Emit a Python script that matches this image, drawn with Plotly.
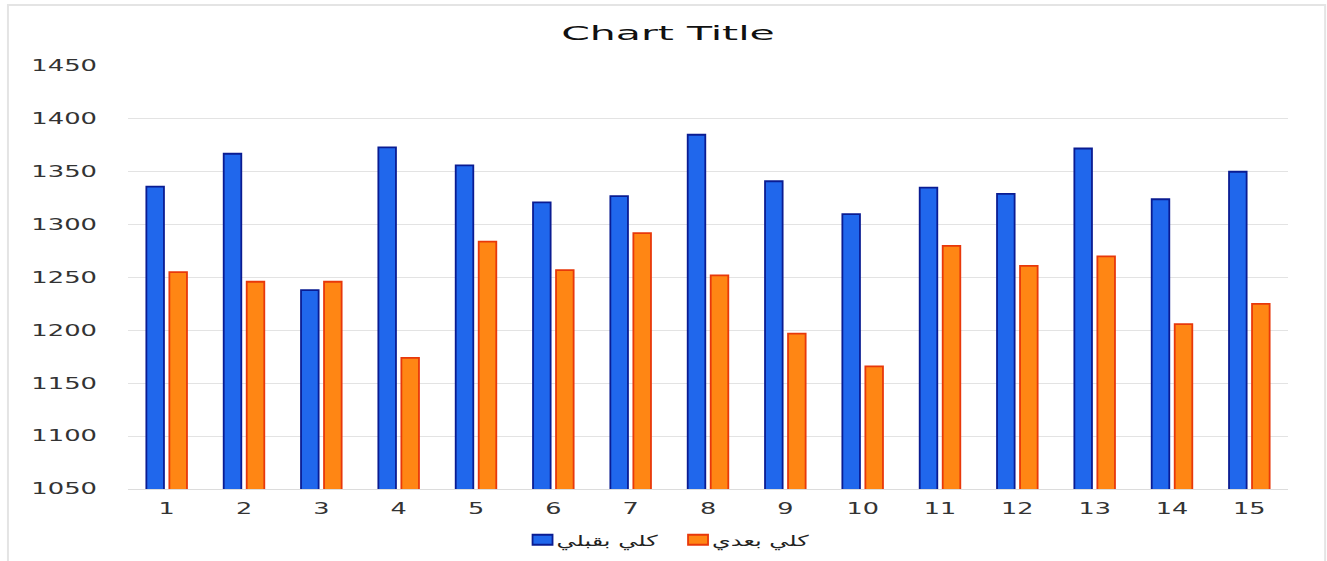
import plotly.graph_objects as go

categories = [str(i) for i in range(1, 16)]
before_vals = [1336, 1367, 1238, 1373, 1356, 1321, 1327, 1385, 1341, 1310, 1335, 1329, 1372, 1324, 1350]
after_vals = [1255, 1246, 1246, 1174, 1284, 1257, 1292, 1252, 1197, 1166, 1280, 1261, 1270, 1206, 1225]
series_names = ["كلي بقبلي", "كلي بعدي"]
y_ticks = [1050, 1100, 1150, 1200, 1250, 1300, 1350, 1400, 1450]

fig = go.Figure()
fig.add_trace(go.Bar(
    x=categories, y=before_vals, name=series_names[0],
    marker=dict(color="#2067ec", line=dict(color="#0a1c92", width=1.8)),
))
fig.add_trace(go.Bar(
    x=categories, y=after_vals, name=series_names[1],
    marker=dict(color="#ff8614", line=dict(color="#e8380a", width=1.8)),
))

fig.update_layout(
    width=1327, height=561,
    margin=dict(l=128, r=39, t=66, b=72, autoexpand=False),
    paper_bgcolor="white", plot_bgcolor="white",
    barmode="group", bargap=0.405, bargroupgap=0.235,
    title=dict(text="Chart Title", x=0.5034, xanchor="center", y=0.9412, yanchor="middle",
               font=dict(family="DejaVu Sans", size=20, color="#111")),
    font=dict(family="DejaVu Sans", size=15, color="#333"),
    showlegend=True,
    legend=dict(orientation="h", x=0.469, xanchor="center",
                yref="container", y=0.0374, yanchor="middle",
                font=dict(family="DejaVu Sans", size=15, color="#222"),
                traceorder="normal", itemwidth=30, entrywidth=110.5),
    xaxis=dict(showgrid=False, showline=True, linecolor="#dcdcdc", linewidth=1,
               ticks="", tickfont=dict(size=15, color="#333"), ticklabelstandoff=6),
    yaxis=dict(range=[1050, 1450], tickvals=y_ticks, showgrid=True, gridcolor="#e3e3e3",
               gridwidth=1, zeroline=False, showline=False, ticks="",
               tickfont=dict(size=15, color="#333"), ticklabelstandoff=30),
    shapes=[dict(type="rect", xref="paper", yref="paper",
                 x0=-0.1035, x1=1.032, y0=-0.2, y1=1.1442,
                 line=dict(color="#e4e4e4", width=2), layer="below")],
)

post = """
document.body.style.margin = '0';
var gd = document.getElementById('{plot_id}');
function stretchText(sel, f) {
  gd.querySelectorAll(sel).forEach(function (t) {
    if (!t.dataset.w) { t.dataset.w = t.getComputedTextLength(); }
    t.setAttribute('textLength', parseFloat(t.dataset.w) * f);
    t.setAttribute('lengthAdjust', 'spacingAndGlyphs');
  });
}
stretchText('text.gtitle', 2.05);
stretchText('.xtick text', 1.7);
stretchText('.ytick text', 1.72);
stretchText('text.legendtext', 1.6);
gd.querySelectorAll('.legendpoints path').forEach(function (p) {
  p.setAttribute('d', 'M16,5H-4V-5H16Z');
});
"""

fig.write_html("out.html", post_script=post, config={"displayModeBar": False})
